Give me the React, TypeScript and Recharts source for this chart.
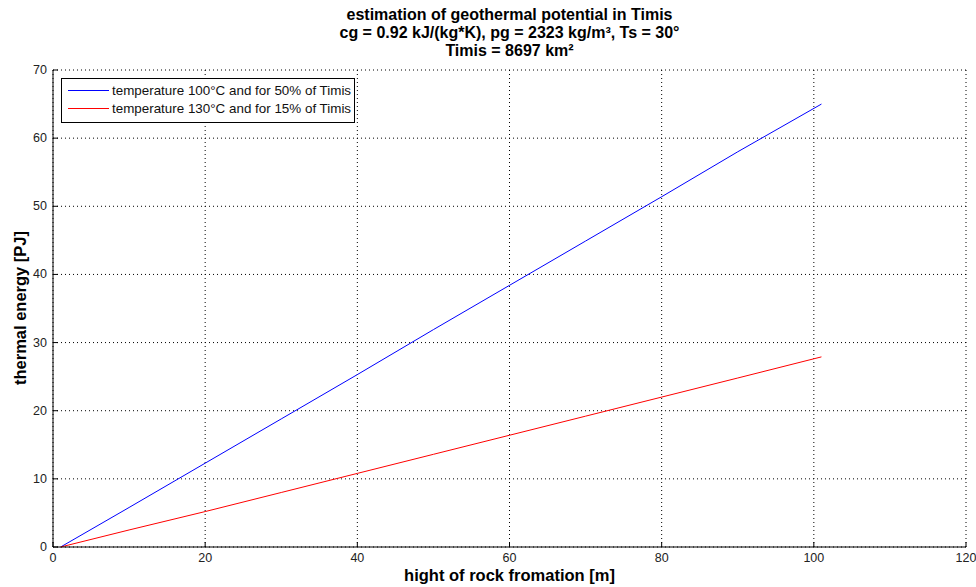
import { LineChart, Line, XAxis, YAxis, CartesianGrid, Legend } from "recharts";

// rock formation height [m]
const heights = [1, 10, 20, 30, 40, 50, 60, 70, 80, 90, 101];
// thermal energy [PJ]
const energy100 = [0, 5.8, 12.3, 18.8, 25.3, 31.9, 38.4, 44.9, 51.4, 58.0, 65.0];
const energy130 = [0, 2.5, 5.2, 8.0, 10.8, 13.6, 16.4, 19.2, 22.0, 24.8, 27.9];

const xTicks = [0, 20, 40, 60, 80, 100, 120];
const yTicks = [0, 10, 20, 30, 40, 50, 60, 70];

const seriesNames = [
  "temperature 100°C and for 50% of Timis",
  "temperature 130°C and for 15% of Timis",
];
const seriesColors = ["#0000ff", "#ff0000"];

const data = heights.map((h, i) => ({ h, t100: energy100[i], t130: energy130[i] }));

const FONT = "'Liberation Sans', Arial, Helvetica, sans-serif";

const BottomTick = ({ x, y, payload }: any) => (
  <g>
    <line x1={x} x2={x} y1={y} y2={y - 5} stroke="#000" />
    <text x={x} y={y + 15} textAnchor="middle" fontSize={12.5} fill="#222" fontFamily={FONT}>
      {payload.value}
    </text>
  </g>
);

const TopTick = ({ x, y }: any) => <line x1={x} x2={x} y1={y} y2={y + 5} stroke="#000" />;

const LeftTick = ({ x, y, payload }: any) => (
  <g>
    <line x1={x} x2={x + 5} y1={y} y2={y} stroke="#000" />
    <text x={x - 6} y={y + 4} textAnchor="end" fontSize={12.5} fill="#222" fontFamily={FONT}>
      {payload.value}
    </text>
  </g>
);

const RightTick = ({ x, y }: any) => <line x1={x} x2={x - 5} y1={y} y2={y} stroke="#000" />;

const LegendBox = () => (
  <svg width={294} height={45} style={{ display: "block" }}>
    <rect x={0.5} y={0.5} width={293} height={44} fill="#fff" stroke="#000" />
    {seriesNames.map((name, i) => (
      <g key={i}>
        <line x1={7} x2={48} y1={12.5 + i * 18} y2={12.5 + i * 18} stroke={seriesColors[i]} strokeWidth={1} />
        <text x={51} y={17 + i * 18} fontSize={13.4} fill="#111" fontFamily={FONT}>
          {name}
        </text>
      </g>
    ))}
  </svg>
);

export default function App() {
  return (
    <div style={{ position: "absolute", left: 0, top: 0, width: 976, height: 587, background: "#fff", fontFamily: FONT }}>
      <LineChart
        width={976}
        height={587}
        data={data}
        margin={{ top: 70, right: 10, left: 0, bottom: 0 }}
        style={{ position: "absolute", left: 0, top: 0 }}
      >
        <CartesianGrid stroke="#000" strokeDasharray="1 3" vertical horizontal />
        <XAxis
          dataKey="h"
          type="number"
          domain={[0, 120]}
          ticks={xTicks}
          height={40}
          tickSize={0}
          tickMargin={0}
          axisLine={{ stroke: "#000" }}
          tick={(p: any) => <BottomTick {...p} />}
          interval={0}
        />
        <XAxis
          xAxisId="top"
          dataKey="h"
          type="number"
          orientation="top"
          domain={[0, 120]}
          ticks={xTicks}
          height={0}
          tickSize={0}
          tickMargin={0}
          axisLine={{ stroke: "#000" }}
          tick={(p: any) => <TopTick {...p} />}
          interval={0}
        />
        <YAxis
          type="number"
          domain={[0, 70]}
          ticks={yTicks}
          width={53}
          tickSize={0}
          tickMargin={0}
          axisLine={{ stroke: "#000" }}
          tick={(p: any) => <LeftTick {...p} />}
          interval={0}
        />
        <YAxis
          yAxisId="right"
          orientation="right"
          type="number"
          domain={[0, 70]}
          ticks={yTicks}
          width={0}
          tickSize={0}
          tickMargin={0}
          axisLine={{ stroke: "#000" }}
          tick={(p: any) => <RightTick {...p} />}
          interval={0}
        />
        <Legend
          layout="vertical"
          verticalAlign="middle"
          align="center"
          wrapperStyle={{ left: 61, top: 78, width: 294 }}
          content={() => <LegendBox />}
        />
        <Line
          dataKey="t100"
          name={seriesNames[0]}
          stroke={seriesColors[0]}
          strokeWidth={1}
          dot={false}
          isAnimationActive={false}
        />
        <Line
          dataKey="t130"
          name={seriesNames[1]}
          stroke={seriesColors[1]}
          strokeWidth={1}
          dot={false}
          isAnimationActive={false}
        />
      </LineChart>

      <div
        style={{
          position: "absolute",
          left: 53,
          top: 6,
          width: 913,
          textAlign: "center",
          fontWeight: "bold",
          fontSize: 16,
          lineHeight: "18px",
          color: "#000",
        }}
      >
        <div>estimation of geothermal potential in Timis</div>
        <div>cg = 0.92 kJ/(kg*K), pg = 2323 kg/m³, Ts = 30°</div>
        <div>Timis = 8697 km²</div>
      </div>

      <div
        style={{
          position: "absolute",
          left: 53,
          top: 566,
          width: 913,
          textAlign: "center",
          fontWeight: "bold",
          fontSize: 16.5,
          color: "#000",
        }}
      >
        hight of rock fromation [m]
      </div>
      <div
        style={{
          position: "absolute",
          left: 20,
          top: 308,
          transform: "translate(-50%, -50%) rotate(-90deg)",
          whiteSpace: "nowrap",
          fontWeight: "bold",
          fontSize: 16.5,
          color: "#000",
        }}
      >
        thermal energy [PJ]
      </div>
    </div>
  );
}
